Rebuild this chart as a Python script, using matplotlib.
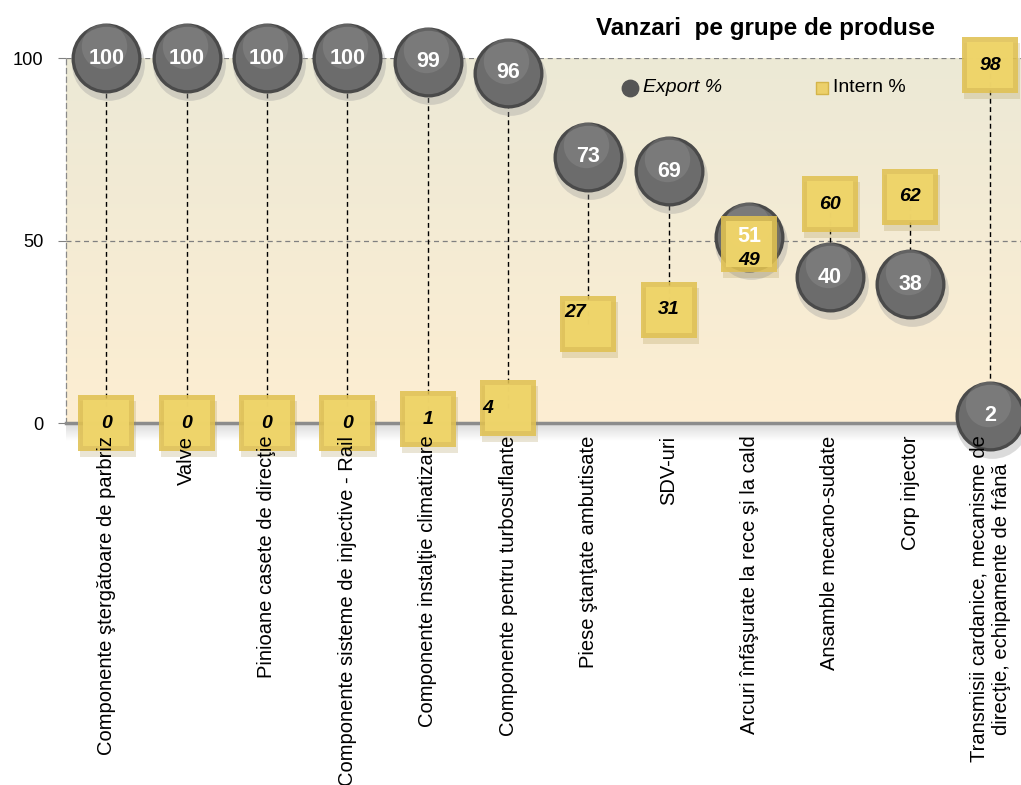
import numpy as np
import matplotlib
matplotlib.use("Agg")
import matplotlib.pyplot as plt
from matplotlib import font_manager
from matplotlib.transforms import offset_copy

categories = [
    "Componente ştergătoare de parbriz",
    "Valve",
    "Pinioane casete de direcţie",
    "Componente sisteme de injective - Rail",
    "Componente instalţie climatizare",
    "Componente pentru turbosuflante",
    "Piese ştanţate ambutisate",
    "SDV-uri",
    "Arcuri înfăşurate la rece şi la cald",
    "Ansamble mecano-sudate",
    "Corp injector",
    "Transmisii cardanice, mecanisme de\ndirecţie, echipamente de frână",
]
export_pct = [100, 100, 100, 100, 99, 96, 73, 69, 51, 40, 38, 2]
intern_pct = [0, 0, 0, 0, 1, 4, 27, 31, 49, 60, 62, 98]

# pick a condensed font if there is one
names = {f.name for f in font_manager.fontManager.ttflist}
narrow = "Liberation Sans Narrow" in names
fam = ["Liberation Sans Narrow", "Liberation Sans", "DejaVu Sans"] if narrow else ["Liberation Sans", "DejaVu Sans"]
k = 1.0 if narrow else 0.82
plt.rcParams["font.family"] = fam

fig = plt.figure(figsize=(10.21, 7.85), dpi=100)
ax = fig.add_axes([0.0646, 0.4611, 0.9354, 0.465])
x = np.arange(len(categories))
ax.set_xlim(-0.5, 11.38)
ax.set_ylim(0, 100)

# background gradient
grad = np.linspace(0, 1, 256)[:, None]
top = np.array(matplotlib.colors.to_rgb("#ece9d6"))
bot = np.array(matplotlib.colors.to_rgb("#fdeed2"))
img = top[None, None, :] * (1 - grad[..., None]) + bot[None, None, :] * grad[..., None]
ax.imshow(img, extent=(-0.5, 11.38, 0, 100), aspect="auto", zorder=0, origin="upper")

# shadow under the x axis
sh = np.linspace(0, 1, 64)[:, None]
shimg = np.ones((64, 1, 4))
shimg[..., :3] = 0.55
shimg[..., 3] = 0.35 * (1 - sh)
ax.imshow(shimg, extent=(0, 1, -0.05, 0), transform=ax.transAxes, aspect="auto",
          clip_on=False, zorder=1, origin="upper")

for s in ["top", "right"]:
    ax.spines[s].set_visible(False)
ax.spines["left"].set_linestyle((0, (4, 3)))
ax.spines["left"].set_color("#8a8a8a")
ax.spines["left"].set_linewidth(0.9)
ax.spines["bottom"].set_color("#8c8c8c")
ax.spines["bottom"].set_linewidth(2.5)

ax.set_yticks([0, 50, 100])
ax.yaxis.grid(True, linestyle=(0, (4, 3)), color="#808080", linewidth=0.9)
ax.tick_params(axis="y", length=6, color="#808080", labelsize=16 * k, pad=10)
ax.set_xticks(x)
ax.set_xticklabels(categories, rotation=90, va="top", ha="center",
                   multialignment="center", fontsize=14.5)
ax.tick_params(axis="x", length=0, pad=9)
ax.xaxis.set_zorder(20)

# drop lines between the two shares
ax.vlines(x, intern_pct, export_pct, colors="black", linestyles=(0, (3.5, 2.5)),
          linewidth=1.0, zorder=2)

down = offset_copy(ax.transData, fig=fig, x=2, y=-6, units="dots")
up = offset_copy(ax.transData, fig=fig, x=-2, y=12, units="dots")

# glossy export circles
cs = 2540
ax.scatter(x, export_pct, s=cs * 1.08, color="#9a9a9a", alpha=0.35, lw=0,
           transform=down, clip_on=False, zorder=3)
ax.scatter(x, export_pct, s=cs, color="#4a4a4a", lw=0, clip_on=False, zorder=3)
ax.scatter(x, export_pct, s=cs * 0.82, color="#6c6c6c", lw=0, clip_on=False, zorder=3)
ax.scatter(x, export_pct, s=cs * 0.42, color="#9c9c9c", alpha=0.3, lw=0,
           transform=up, clip_on=False, zorder=3)

# bevelled intern squares
ss = 1570
ax.scatter(x, intern_pct, s=ss * 1.05, marker="s", color="#a08a40", alpha=0.22, lw=0,
           transform=down, clip_on=False, zorder=4)
ax.scatter(x, intern_pct, s=ss, marker="s", color="#e0c152", alpha=0.88, lw=0,
           clip_on=False, zorder=4)
ax.scatter(x, intern_pct, s=ss * 0.7, marker="s", color="#f0d66c", alpha=0.9, lw=0,
           clip_on=False, zorder=4)

# value labels
intern_dx = [0, 0, 0, 0, 0, -0.25, -0.16, 0, 0, 0, 0, 0]
intern_dy = [0, 0, 0, 0, 0, 0, 3.3, 0, -4.5, 0, 0, 0]
for i in range(len(categories)):
    ax.text(x[i] + intern_dx[i], intern_pct[i] + intern_dy[i], str(intern_pct[i]),
            ha="center", va="center", fontsize=14, fontweight="bold",
            fontstyle="italic", color="black", zorder=7, clip_on=False)
    ax.text(x[i], export_pct[i], str(export_pct[i]), ha="center", va="center",
            fontsize=15.5, fontweight="bold", color="white", zorder=8, clip_on=False)

# title and legend
fig.text(0.750, 0.964, "Vanzari  pe grupe de produse", ha="center", va="center",
         fontsize=17.5, fontweight="bold")
ax.scatter([0.617], [0.888], s=140, color="#555555", transform=fig.transFigure,
           clip_on=False, zorder=9)
fig.text(0.630, 0.888, "Export %", ha="left", va="center", fontsize=14,
         fontstyle="italic")
ax.scatter([0.805], [0.888], s=70, marker="s", color="#ecd06a", edgecolors="#d4b54a",
           transform=fig.transFigure, clip_on=False, zorder=9)
fig.text(0.816, 0.888, "Intern %", ha="left", va="center", fontsize=14)

fig.savefig("out.png", dpi=100)
